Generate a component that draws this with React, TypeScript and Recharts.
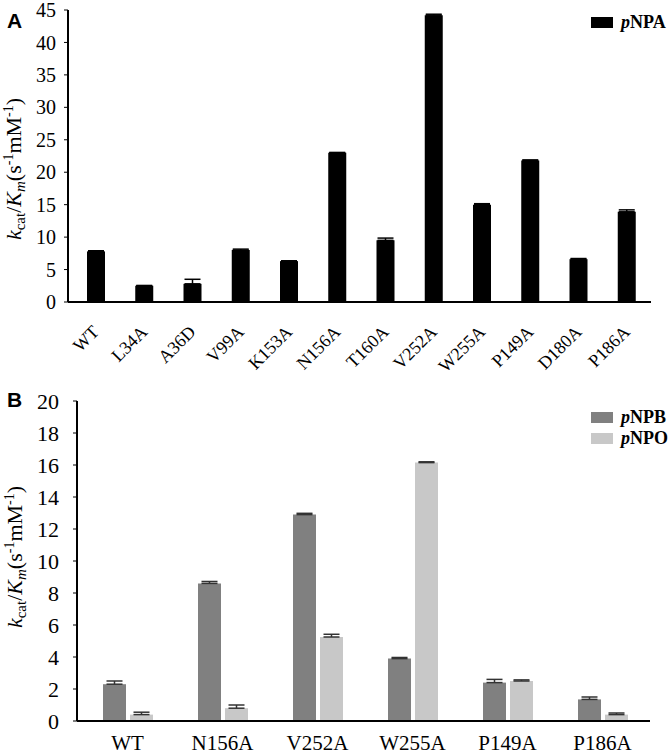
import React from 'react';
import { BarChart, Bar, XAxis, YAxis, ErrorBar, Legend } from 'recharts';

const categoriesA = ['WT', 'L34A', 'A36D', 'V99A', 'K153A', 'N156A', 'T160A', 'V252A', 'W255A', 'P149A', 'D180A', 'P186A'];
const pNPA = [7.8, 2.5, 2.8, 8.0, 6.3, 23.0, 9.5, 44.2, 15.0, 21.8, 6.6, 13.9];
const pNPAErr = [0.1, 0.05, 0.7, 0.15, 0.05, 0.05, 0.35, 0.15, 0.15, 0.1, 0.1, 0.3];
const ticksA = [0, 5, 10, 15, 20, 25, 30, 35, 40, 45];

const categoriesB = ['WT', 'N156A', 'V252A', 'W255A', 'P149A', 'P186A'];
const pNPB = [2.3, 8.6, 12.9, 3.9, 2.4, 1.35];
const pNPBErr = [0.2, 0.12, 0.08, 0.07, 0.2, 0.15];
const pNPO = [0.4, 0.8, 5.25, 16.15, 2.5, 0.4];
const pNPOErr = [0.15, 0.2, 0.17, 0.05, 0.07, 0.1];
const ticksB = [0, 2, 4, 6, 8, 10, 12, 14, 16, 18, 20];

const dataA = categoriesA.map((c, i) => ({ name: c, pNPA: pNPA[i], errA: [0, pNPAErr[i]] }));
const dataB = categoriesB.map((c, i) => ({
  name: c,
  pNPB: pNPB[i],
  errB: [0, pNPBErr[i]],
  pNPO: pNPO[i],
  errO: [0, pNPOErr[i]],
}));

const SERIF = '"Liberation Serif", "Times New Roman", serif';
const SANS = '"Liberation Sans", Arial, sans-serif';

const makeYLabel = (shift: number, bx: number) => (props: any) => {
  const vb = props.viewBox || { x: 0, y: 0, width: 0, height: 0 };
  const cy = vb.y + vb.height / 2 + shift;
  const cx = bx;
  return (
    <text
      x={cx}
      y={cy}
      textAnchor="middle"
      transform={`rotate(-90 ${cx} ${cy})`}
      fontFamily={SERIF}
      fontSize={22}
      fill="#000"
    >
      <tspan fontStyle="italic">k</tspan>
      <tspan fontSize={15} dy={4}>cat</tspan>
      <tspan dy={-4}>/</tspan>
      <tspan fontStyle="italic">K</tspan>
      <tspan fontStyle="italic" fontSize={15} dy={4}>m</tspan>
      <tspan dy={-4}>(s</tspan>
      <tspan fontSize={14} dy={-8}>-1</tspan>
      <tspan dy={8}>mM</tspan>
      <tspan fontSize={14} dy={-8}>-1</tspan>
      <tspan dy={8}>)</tspan>
    </text>
  );
};

const TickA = (props: any) => {
  const { x, y, payload } = props;
  const ex = x + 4;
  const ey = y + 29;
  return (
    <text
      x={ex}
      y={ey}
      textAnchor="end"
      transform={`rotate(-45 ${ex} ${ey})`}
      fontFamily={SERIF}
      fontSize={18}
      fill="#000"
    >
      {payload.value}
    </text>
  );
};

const TickB = (props: any) => {
  const { x, y, payload } = props;
  return (
    <text x={x} y={y + 27} textAnchor="middle" fontFamily={SERIF} fontSize={21} fill="#000">
      {payload.value}
    </text>
  );
};

const LegendA = () => (
  <svg width={80} height={24}>
    <rect x={0} y={5} width={22} height={11} fill="#000" />
    <text x={30} y={16} fontFamily={SERIF} fontSize={18} fontWeight="bold" fill="#000">
      <tspan fontStyle="italic">p</tspan>NPA
    </text>
  </svg>
);

const LegendB = () => (
  <svg width={80} height={46}>
    <rect x={0} y={7} width={22} height={11} fill="#808080" />
    <text x={30} y={18} fontFamily={SERIF} fontSize={18} fontWeight="bold" fill="#000">
      <tspan fontStyle="italic">p</tspan>NPB
    </text>
    <rect x={0} y={28} width={22} height={11} fill="#c8c8c8" />
    <text x={30} y={39} fontFamily={SERIF} fontSize={18} fontWeight="bold" fill="#000">
      <tspan fontStyle="italic">p</tspan>NPO
    </text>
  </svg>
);

export default function App() {
  return (
    <div style={{ position: 'absolute', left: 0, top: 0, width: 671, height: 754, background: '#fff', overflow: 'hidden' }}>
      <div style={{ position: 'absolute', left: 0, top: 0 }}>
        <BarChart width={671} height={380} data={dataA} margin={{ top: 10, right: 20, bottom: 0, left: 0 }}>
          <XAxis
            dataKey="name"
            height={78}
            tick={<TickA />}
            tickLine={false}
            tickSize={0}
            axisLine={{ stroke: '#000', strokeWidth: 2 }}
            padding={{ left: 4, right: 0 }}
            interval={0}
          />
          <YAxis
            width={68}
            domain={[0, 45]}
            ticks={ticksA}
            interval={0}
            tickSize={4}
            tickMargin={8}
            tickLine={{ stroke: '#000' }}
            axisLine={{ stroke: '#000', strokeWidth: 2 }}
            tick={{ fontFamily: SERIF, fontSize: 20, fill: '#000' }}
            label={{ content: makeYLabel(13, 21) }}
          />
          <Legend
            layout="vertical"
            align="center"
            verticalAlign="middle"
            content={<LegendA />}
            wrapperStyle={{ left: 591, top: 12, width: 80 }}
          />
          <Bar dataKey="pNPA" fill="#000" barSize={18} isAnimationActive={false}>
            <ErrorBar dataKey="errA" width={8} strokeWidth={1.5} stroke="#000" direction="y" isAnimationActive={false} />
          </Bar>
        </BarChart>
      </div>
      <div style={{ position: 'absolute', left: 0, top: 380 }}>
        <BarChart width={671} height={374} data={dataB} margin={{ top: 21, right: 21, bottom: 0, left: 0 }} barGap={4}>
          <XAxis
            dataKey="name"
            height={33}
            tick={<TickB />}
            tickLine={false}
            tickSize={0}
            axisLine={{ stroke: '#000', strokeWidth: 2 }}
            padding={{ left: 3, right: 0 }}
            interval={0}
          />
          <YAxis
            width={77}
            domain={[0, 20]}
            ticks={ticksB}
            interval={0}
            tickSize={4}
            tickMargin={14}
            tickLine={{ stroke: '#000' }}
            axisLine={{ stroke: '#000', strokeWidth: 2 }}
            tick={{ fontFamily: SERIF, fontSize: 22, fill: '#000' }}
            label={{ content: makeYLabel(-4, 22) }}
          />
          <Legend
            layout="vertical"
            align="center"
            verticalAlign="middle"
            content={<LegendB />}
            wrapperStyle={{ left: 591, top: 25, width: 80 }}
          />
          <Bar dataKey="pNPB" fill="#808080" barSize={23} isAnimationActive={false}>
            <ErrorBar dataKey="errB" width={8} strokeWidth={1.5} stroke="#333" direction="y" isAnimationActive={false} />
          </Bar>
          <Bar dataKey="pNPO" fill="#c8c8c8" barSize={23} isAnimationActive={false}>
            <ErrorBar dataKey="errO" width={8} strokeWidth={1.5} stroke="#333" direction="y" isAnimationActive={false} />
          </Bar>
        </BarChart>
      </div>
      <svg width={671} height={754} style={{ position: 'absolute', left: 0, top: 0, pointerEvents: 'none' }}>
        <text x={7} y={28} fontFamily={SANS} fontSize={21} fontWeight="bold" fill="#000">A</text>
        <text x={7} y={407} fontFamily={SANS} fontSize={21} fontWeight="bold" fill="#000">B</text>
      </svg>
    </div>
  );
}
